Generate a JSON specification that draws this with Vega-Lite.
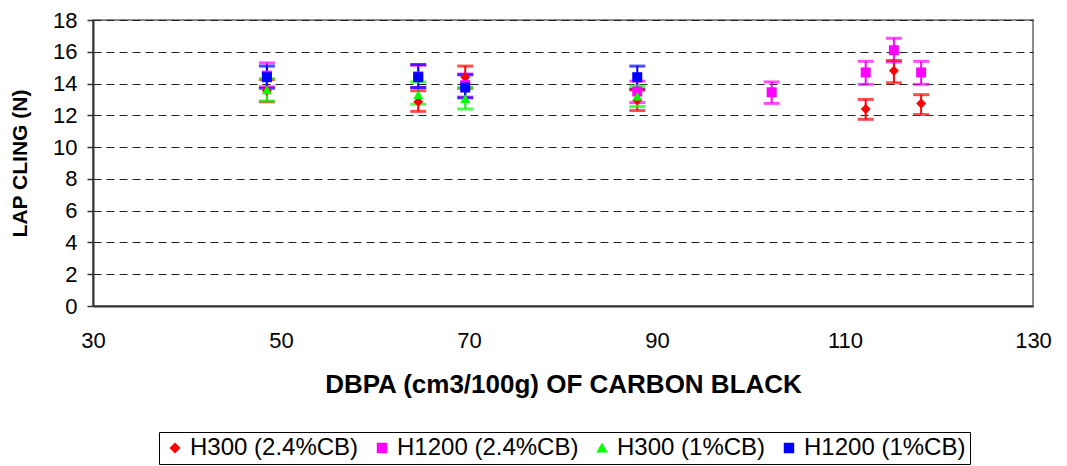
{
  "$schema": "https://vega.github.io/schema/vega-lite/v6.json",
  "width": 940,
  "height": 286,
  "autosize": "none",
  "padding": {"left": 93, "top": 20, "right": 34, "bottom": 160},
  "background": "white",
  "config": {
    "font": "Liberation Sans",
    "view": {"stroke": "#8c8c8c", "strokeWidth": 2},
    "axisY": {
      "grid": true,
      "gridDash": [8, 5],
      "gridColor": "#222222",
      "gridWidth": 1,
      "tickSize": 6,
      "tickColor": "#333333",
      "tickWidth": 1.5,
      "labelOverlap": false,
      "labelFlush": false,
      "labelPadding": 10,
      "labelFontSize": 22,
      "labelColor": "black",
      "domainColor": "#333333",
      "domainWidth": 2,
      "titleFontSize": 21,
      "titleFontWeight": "bold",
      "titleColor": "black",
      "titlePadding": 22
    }
  },
  "data": {
    "values": [
      {"series": "H300 (2.4%CB)", "dbpa": 48.5, "cling": 13.55, "lo": 12.85, "hi": 14.25},
      {"series": "H300 (2.4%CB)", "dbpa": 64.6, "cling": 12.85, "lo": 12.25, "hi": 13.55},
      {"series": "H300 (2.4%CB)", "dbpa": 69.6, "cling": 14.4, "lo": 13.7, "hi": 15.1},
      {"series": "H300 (2.4%CB)", "dbpa": 87.9, "cling": 12.95, "lo": 12.3, "hi": 13.6},
      {"series": "H300 (2.4%CB)", "dbpa": 112.2, "cling": 12.4, "lo": 11.75, "hi": 13.0},
      {"series": "H300 (2.4%CB)", "dbpa": 115.2, "cling": 14.8, "lo": 14.05, "hi": 15.45},
      {"series": "H300 (2.4%CB)", "dbpa": 118.1, "cling": 12.75, "lo": 12.05, "hi": 13.3},
      {"series": "H1200 (2.4%CB)", "dbpa": 48.5, "cling": 14.5, "lo": 13.8, "hi": 15.3},
      {"series": "H1200 (2.4%CB)", "dbpa": 64.6, "cling": 14.45, "lo": 13.75, "hi": 15.15},
      {"series": "H1200 (2.4%CB)", "dbpa": 69.6, "cling": 13.9, "lo": 13.15, "hi": 14.6},
      {"series": "H1200 (2.4%CB)", "dbpa": 87.9, "cling": 13.5, "lo": 12.8, "hi": 14.15},
      {"series": "H1200 (2.4%CB)", "dbpa": 102.2, "cling": 13.45, "lo": 12.75, "hi": 14.1},
      {"series": "H1200 (2.4%CB)", "dbpa": 112.2, "cling": 14.7, "lo": 13.95, "hi": 15.4},
      {"series": "H1200 (2.4%CB)", "dbpa": 115.2, "cling": 16.1, "lo": 15.35, "hi": 16.85},
      {"series": "H1200 (2.4%CB)", "dbpa": 118.1, "cling": 14.7, "lo": 13.95, "hi": 15.4},
      {"series": "H300 (1%CB)", "dbpa": 48.5, "cling": 13.6, "lo": 12.9, "hi": 14.3},
      {"series": "H300 (1%CB)", "dbpa": 64.6, "cling": 13.3, "lo": 12.7, "hi": 14.1},
      {"series": "H300 (1%CB)", "dbpa": 69.6, "cling": 13.05, "lo": 12.4, "hi": 13.75},
      {"series": "H300 (1%CB)", "dbpa": 87.9, "cling": 13.2, "lo": 12.55, "hi": 13.85},
      {"series": "H1200 (1%CB)", "dbpa": 48.5, "cling": 14.4, "lo": 13.7, "hi": 15.1},
      {"series": "H1200 (1%CB)", "dbpa": 64.6, "cling": 14.4, "lo": 13.75, "hi": 15.2},
      {"series": "H1200 (1%CB)", "dbpa": 69.6, "cling": 13.75, "lo": 13.1, "hi": 14.55},
      {"series": "H1200 (1%CB)", "dbpa": 87.9, "cling": 14.4, "lo": 13.65, "hi": 15.1}
    ]
  },
  "encoding": {
    "x": {
      "field": "dbpa",
      "type": "quantitative",
      "title": "DBPA (cm3/100g) OF CARBON BLACK",
      "scale": {"domain": [30, 130], "nice": false, "zero": false},
      "axis": {
        "values": [30, 50, 70, 90, 110, 130],
        "grid": false,
        "ticks": false,
        "labelFlush": false,
        "labelOverlap": false,
        "labelPadding": 24,
        "labelFontSize": 22,
        "labelColor": "black",
        "domainColor": "#333333",
        "domainWidth": 2,
        "titleFontSize": 26,
        "titleFontWeight": "bold",
        "titleColor": "black",
        "titlePadding": 20
      }
    },
    "color": {
      "field": "series",
      "type": "nominal",
      "scale": {
        "domain": ["H300 (2.4%CB)", "H1200 (2.4%CB)", "H300 (1%CB)", "H1200 (1%CB)"],
        "range": ["#ff0000", "#ff00ff", "#00ff00", "#0000ff"]
      },
      "legend": {
        "title": null,
        "orient": "none",
        "legendX": 66,
        "legendY": 412,
        "direction": "horizontal",
        "columns": 4,
        "strokeColor": "black",
        "padding": 4,
        "labelFontSize": 24,
        "labelLimit": 0,
        "labelColor": "black",
        "labelOffset": 3,
        "columnPadding": 11,
        "symbolSize": 80,
        "symbolOpacity": 1
      }
    }
  },
  "layer": [
    {
      "mark": {"type": "rule", "strokeWidth": 2},
      "encoding": {
        "y": {
          "field": "lo",
          "type": "quantitative",
          "title": "LAP CLING (N)",
          "scale": {"domain": [0, 18], "nice": false},
          "axis": {"values": [0, 2, 4, 6, 8, 10, 12, 14, 16, 18]}
        },
        "y2": {"field": "hi"}
      }
    },
    {
      "mark": {"type": "tick", "orient": "horizontal", "size": 16, "thickness": 3},
      "encoding": {
        "y": {"field": "lo", "type": "quantitative", "title": "LAP CLING (N)", "axis": {"values": [0, 2, 4, 6, 8, 10, 12, 14, 16, 18]}}
      }
    },
    {
      "mark": {"type": "tick", "orient": "horizontal", "size": 16, "thickness": 3},
      "encoding": {
        "y": {"field": "hi", "type": "quantitative", "title": "LAP CLING (N)", "axis": {"values": [0, 2, 4, 6, 8, 10, 12, 14, 16, 18]}}
      }
    },
    {
      "mark": {"type": "point", "filled": true, "size": 100, "opacity": 1},
      "encoding": {
        "y": {"field": "cling", "type": "quantitative", "title": "LAP CLING (N)", "axis": {"values": [0, 2, 4, 6, 8, 10, 12, 14, 16, 18]}},
        "shape": {
          "field": "series",
          "type": "nominal",
          "scale": {
            "domain": ["H300 (2.4%CB)", "H1200 (2.4%CB)", "H300 (1%CB)", "H1200 (1%CB)"],
            "range": ["diamond", "square", "triangle-up", "square"]
          },
          "legend": {
            "title": null,
            "orient": "none",
            "legendX": 66,
            "legendY": 412,
            "direction": "horizontal",
            "columns": 4,
            "strokeColor": "black",
            "padding": 4,
            "labelFontSize": 24,
            "labelLimit": 0,
            "labelColor": "black",
            "labelOffset": 3,
            "columnPadding": 11,
            "symbolSize": 80,
            "symbolOpacity": 1
          }
        }
      }
    }
  ]
}
